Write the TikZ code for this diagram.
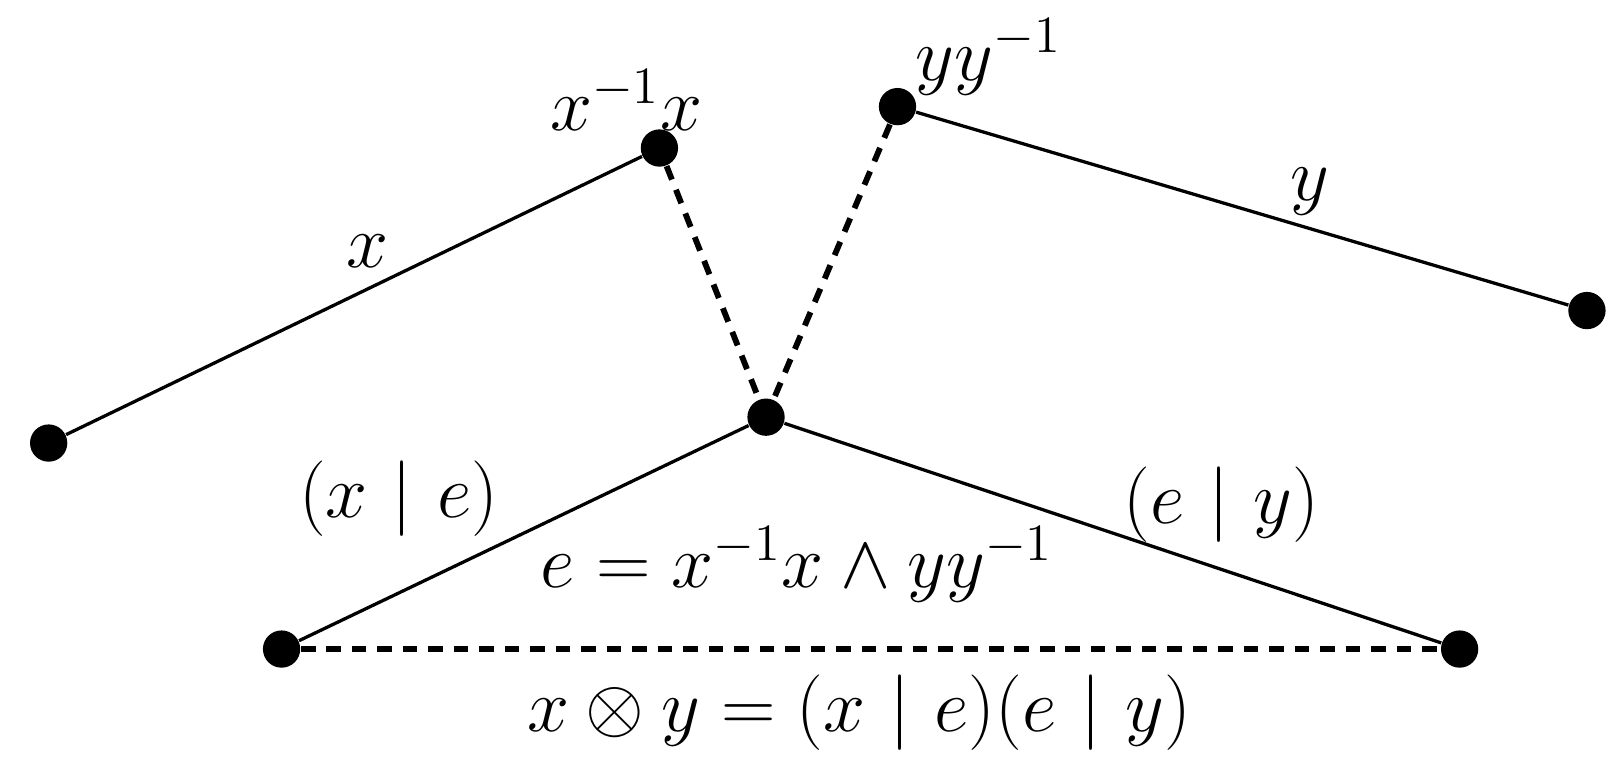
\documentclass[tikz,border=0pt]{standalone}
\begin{document}
\begin{tikzpicture}[x=0.01cm,y=-0.01cm,
  dot/.style={circle,fill=black,inner sep=0pt,minimum size=0.36cm},
  solidl/.style={line width=0.9pt},
  dashl/.style={line width=1.6pt,dash pattern=on 4pt off 3pt},
  lab/.style={font=\fontsize{22}{26}\selectfont,inner sep=0pt}]
\node[dot] (A) at (47,428) {};
\node[dot] (B) at (637,143) {};
\node[dot] (C) at (867,103) {};
\node[dot] (D) at (1533,300) {};
\node[dot] (E) at (740,403) {};
\node[dot] (F) at (272,627) {};
\node[dot] (G) at (1410,627) {};
\draw[solidl] (A) -- (B);
\draw[solidl] (C) -- (D);
\draw[solidl] (E) -- (F);
\draw[solidl] (E) -- (G);
\draw[dashl] (B) -- (E);
\draw[dashl] (C) -- (E);
\draw[dashl] (F) -- (G);
\node[lab] (lx) at (355,243) {$x$};
\node[lab] (lxx) at (605,97) {$x^{-1}x$};
\node[lab] (lyy) at (955,55) {$yy^{-1}$};
\node[lab] (ly) at (1265,185) {$y$};
\node[lab] (lxe) at (385,482) {$(x\ |\ e)$};
\node[lab] (ley) at (1180,487) {$(e\ |\ y)$};
\node[lab] (le) at (770,545) {$e = x^{-1}x\wedge yy^{-1}$};
\node[lab] (lp) at (830,688) {$x\otimes y = (x\ |\ e)(e\ |\ y)$};
\pgfresetboundingbox
\useasboundingbox (0,0) rectangle (1563,746);
\end{tikzpicture}
\end{document}
